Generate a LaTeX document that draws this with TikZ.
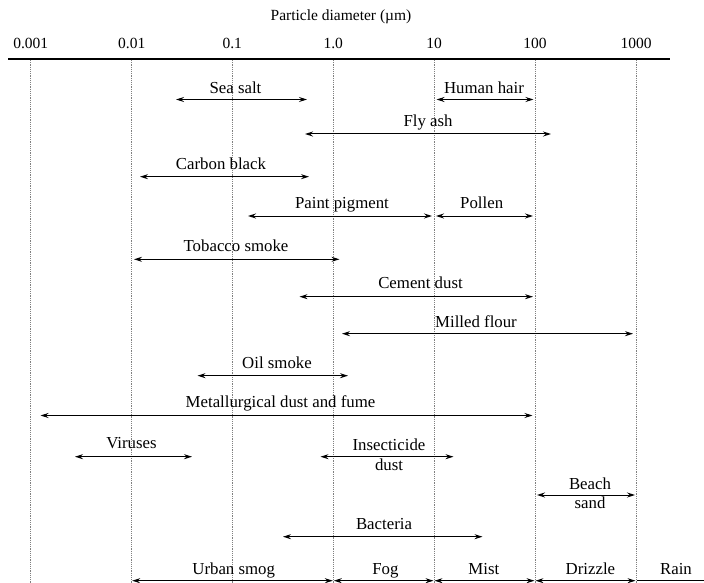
\documentclass[tikz,border=0pt]{standalone}
\usepackage{fontspec}
\setmainfont{Liberation Serif}
\usetikzlibrary{arrows.meta}
\begin{document}
\begin{tikzpicture}[x=1pt,y=-1pt,
  lbl/.style={font=\fontsize{16.8}{19}\selectfont, anchor=base, inner sep=0pt},
  tick/.style={font=\fontsize{15.5}{18}\selectfont, anchor=base, inner sep=0pt},
  rng/.style={{Stealth[length=8pt,width=5pt]}-{Stealth[length=8pt,width=5pt]}, line width=1pt},
  gridline/.style={gray, line width=0.5pt, dash pattern=on 1.2pt off 1pt},
  axisline/.style={line width=1.6pt}]
\useasboundingbox (0,0) rectangle (704,583);
% title and axis
\node[tick] (title) at (341,21) {Particle diameter (µm)};
\coordinate (axL) at (8,59);
\coordinate (axR) at (670,59);
\draw[axisline] (axL) -- (axR);
% ticks and grid
\foreach \n/\x/\t in {a/30.7/0.001, b/131.7/0.01, c/232.3/0.1, d/333.3/1.0, e/434/10, f/535/100, g/636/1000}{
  \node[tick] (t\n) at (\x,49) {\t};
  \coordinate (top\n) at (\x,60);
  \coordinate (bot\n) at (\x,583);
  \draw[gridline] (top\n) -- (bot\n);
}
% ranges
\node[lbl] (seasalt) at (235.5,94) {Sea salt};
\coordinate (seasaltL) at (176,99.5); \coordinate (seasaltR) at (307,99.5);
\draw[rng] (seasaltL) -- (seasaltR);

\node[lbl] (hair) at (484,94) {Human hair};
\coordinate (hairL) at (436.5,99.5); \coordinate (hairR) at (533.5,99.5);
\draw[rng] (hairL) -- (hairR);

\node[lbl] (flyash) at (428,126.7) {Fly ash};
\coordinate (flyashL) at (305,134); \coordinate (flyashR) at (551,134);
\draw[rng] (flyashL) -- (flyashR);

\node[lbl] (carbon) at (221,169) {Carbon black};
\coordinate (carbonL) at (140,176.7); \coordinate (carbonR) at (309,176.7);
\draw[rng] (carbonL) -- (carbonR);

\node[lbl] (paint) at (342,208.5) {Paint pigment};
\coordinate (paintL) at (248,216); \coordinate (paintR) at (432,216);
\draw[rng] (paintL) -- (paintR);

\node[lbl] (pollen) at (481.7,208.5) {Pollen};
\coordinate (pollenL) at (436,216); \coordinate (pollenR) at (533,216);
\draw[rng] (pollenL) -- (pollenR);

\node[lbl] (tobacco) at (236,251) {Tobacco smoke};
\coordinate (tobaccoL) at (134,259.3); \coordinate (tobaccoR) at (339.5,259.3);
\draw[rng] (tobaccoL) -- (tobaccoR);

\node[lbl] (cement) at (420.5,288.5) {Cement dust};
\coordinate (cementL) at (299.5,296.7); \coordinate (cementR) at (533,296.7);
\draw[rng] (cementL) -- (cementR);

\node[lbl] (flour) at (476,327.5) {Milled flour};
\coordinate (flourL) at (342,333.7); \coordinate (flourR) at (633,333.7);
\draw[rng] (flourL) -- (flourR);

\node[lbl] (oil) at (277,368.3) {Oil smoke};
\coordinate (oilL) at (197.5,375.7); \coordinate (oilR) at (348,375.7);
\draw[rng] (oilL) -- (oilR);

\node[lbl] (metal) at (280.5,407.5) {Metallurgical dust and fume};
\coordinate (metalL) at (40.5,415.5); \coordinate (metalR) at (532.5,415.5);
\draw[rng] (metalL) -- (metalR);

\node[lbl] (virus) at (131.5,448.5) {Viruses};
\coordinate (virusL) at (75,456.7); \coordinate (virusR) at (192,456.7);
\draw[rng] (virusL) -- (virusR);

\node[lbl] (insect) at (389,450) {Insecticide};
\node[lbl] (insect2) at (389,470.5) {dust};
\coordinate (insectL) at (320.5,456.7); \coordinate (insectR) at (453.5,456.7);
\draw[rng] (insectL) -- (insectR);

\node[lbl] (beach) at (590,489.5) {Beach};
\node[lbl] (beach2) at (590,508.5) {sand};
\coordinate (beachL) at (537,495); \coordinate (beachR) at (635,495);
\draw[rng] (beachL) -- (beachR);

\node[lbl] (bact) at (384,529) {Bacteria};
\coordinate (bactL) at (283,536.7); \coordinate (bactR) at (482.5,536.7);
\draw[rng] (bactL) -- (bactR);

% bottom row
\node[lbl] (smog) at (233.7,574.3) {Urban smog};
\node[lbl] (fog) at (385.4,574.3) {Fog};
\node[lbl] (mist) at (483.8,574.3) {Mist};
\node[lbl] (drizzle) at (590.4,574.3) {Drizzle};
\node[lbl] (rain) at (676,574.3) {Rain};
\coordinate (s0) at (132.2,580.7);
\coordinate (s1) at (332.8,580.7);
\coordinate (s2) at (333.8,580.7);
\coordinate (s3) at (433.5,580.7);
\coordinate (s4) at (434.5,580.7);
\coordinate (s5) at (534.5,580.7);
\coordinate (s6) at (535.5,580.7);
\coordinate (s7) at (635.5,580.7);
\coordinate (s8) at (636.5,580.7);
\coordinate (s9) at (704,580.7);
\draw[rng] (s0) -- (s1);
\draw[rng] (s2) -- (s3);
\draw[rng] (s4) -- (s5);
\draw[rng] (s6) -- (s7);
\draw[line width=1pt] (s8) -- (s9);
\end{tikzpicture}
\end{document}
